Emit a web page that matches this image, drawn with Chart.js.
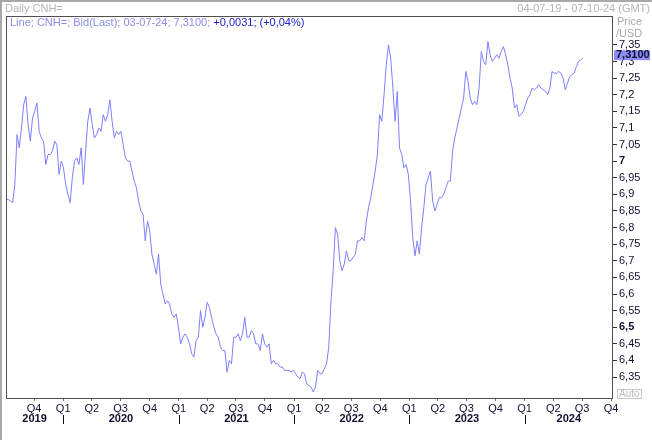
<!DOCTYPE html>
<html lang="en">
<head>
    <meta charset="UTF-8">
    <title>Daily CNH=</title>
    <script src="https://cdn.jsdelivr.net/npm/chart.js"></script>
    <style>
        body {
            margin: 0;
            padding: 0;
            background-color: #ffffff;
        }

        canvas {
            display: block;
        }
    </style>
</head>
<body>
<canvas id="cnhChart" width="652" height="440"></canvas>

<script>
    // range shown on the time axis and the last quote
    const startDate = '2019-07-04';
    const endDate = '2024-10-07';
    const lastDate = '2024-07-03';

    // weekly bid (one value every 7 days from startDate, last one on lastDate)
    const weeklyBid = [
        6.885, 6.885, 6.88, 6.875, 6.93, 7.08, 7.04, 7.10, 7.17, 7.195,
        7.11, 7.06, 7.13, 7.15, 7.175, 7.09, 7.07, 7.06, 6.99, 7.02,
        7.02, 7.03, 7.06, 7.05, 6.96, 7.00, 6.98, 6.93, 6.90, 6.875,
        6.95, 7.00, 7.01, 6.99, 7.04, 6.93, 7.03, 7.12, 7.16, 7.11,
        7.07, 7.08, 7.10, 7.09, 7.14, 7.12, 7.14, 7.185, 7.12, 7.07,
        7.09, 7.08, 7.09, 7.05, 7.01, 7.00, 7.00, 6.97, 6.94, 6.92,
        6.88, 6.85, 6.84, 6.76, 6.82, 6.79, 6.72, 6.69, 6.66, 6.72,
        6.63, 6.60, 6.57, 6.58, 6.57, 6.54, 6.53, 6.54, 6.50, 6.45,
        6.47, 6.48, 6.47, 6.45, 6.42, 6.41, 6.46, 6.47, 6.55, 6.50,
        6.53, 6.575, 6.56, 6.53, 6.50, 6.48, 6.47, 6.44, 6.43, 6.43,
        6.365, 6.40, 6.39, 6.47, 6.47, 6.48, 6.46, 6.48, 6.53, 6.47,
        6.47, 6.49, 6.48, 6.45, 6.45, 6.43, 6.48, 6.45, 6.44, 6.45,
        6.39, 6.40, 6.39, 6.39, 6.38, 6.38, 6.37, 6.37, 6.37, 6.365,
        6.37, 6.36, 6.35, 6.345, 6.365, 6.36, 6.33, 6.325, 6.32, 6.305,
        6.32, 6.37, 6.36, 6.36, 6.375, 6.39, 6.44, 6.58, 6.67, 6.80,
        6.78, 6.70, 6.67, 6.69, 6.73, 6.70, 6.70, 6.71, 6.72, 6.76,
        6.76, 6.77, 6.76, 6.82, 6.86, 6.89, 6.93, 6.97, 7.02, 7.14,
        7.12, 7.20, 7.29, 7.35, 7.31, 7.22, 7.12, 7.21, 7.04, 7.02,
        6.98, 6.99, 6.96, 6.88, 6.77, 6.715, 6.76, 6.72, 6.80, 6.86,
        6.93, 6.95, 6.97, 6.88, 6.85, 6.87, 6.89, 6.89, 6.90, 6.92,
        6.94, 6.94, 7.03, 7.07, 7.10, 7.13, 7.16, 7.19, 7.27, 7.24,
        7.19, 7.17, 7.18, 7.17, 7.22, 7.33, 7.30, 7.29, 7.36, 7.32,
        7.30, 7.31, 7.32, 7.31, 7.33, 7.345, 7.32, 7.29, 7.25, 7.22,
        7.16, 7.17, 7.135, 7.14, 7.15, 7.17, 7.19, 7.20, 7.22, 7.215,
        7.22, 7.23, 7.22, 7.215, 7.21, 7.20, 7.22, 7.27, 7.265, 7.265,
        7.27, 7.265, 7.25, 7.215, 7.235, 7.255, 7.26, 7.265, 7.285, 7.30,
        7.305, 7.31
    ];

    const yTicks = [6.35, 6.4, 6.45, 6.5, 6.55, 6.6, 6.65, 6.7, 6.75, 6.8, 6.85, 6.9,
        6.95, 7, 7.05, 7.1, 7.15, 7.2, 7.25, 7.3, 7.35];
    const boldTicks = [6.5, 7];

    const quarterStarts = ['2019-10-01', '2020-01-01', '2020-04-01', '2020-07-01', '2020-10-01',
        '2021-01-01', '2021-04-01', '2021-07-01', '2021-10-01', '2022-01-01', '2022-04-01',
        '2022-07-01', '2022-10-01', '2023-01-01', '2023-04-01', '2023-07-01', '2023-10-01',
        '2024-01-01', '2024-04-01', '2024-07-01', '2024-10-01'];
    const quarterLabels = ['Q4', 'Q1', 'Q2', 'Q3', 'Q4', 'Q1', 'Q2', 'Q3', 'Q4', 'Q1', 'Q2',
        'Q3', 'Q4', 'Q1', 'Q2', 'Q3', 'Q4', 'Q1', 'Q2', 'Q3', 'Q4'];
    const years = ['2019', '2020', '2021', '2022', '2023', '2024'];

    const lastText = '7,3100';
    const changeText = '+0,0031; (+0,04%)';

    function dayOf(s) {
        return (Date.parse(s) - Date.parse(startDate)) / 86400000;
    }

    const lastDay = dayOf(lastDate);
    const points = weeklyBid.map((v, i) => ({ x: Math.min(i * 7, lastDay), y: v }));

    Chart.defaults.font.family = '"Liberation Sans", Arial, sans-serif';
    Chart.defaults.font.size = 11;

    // frame, header texts, year row and the last-price box
    const decor = {
        id: 'decor',
        beforeDraw(chart) {
            const c = chart.ctx;
            c.save();
            c.fillStyle = '#ffffff';
            c.fillRect(0, 0, chart.width, chart.height);
            c.restore();
        },
        afterDraw(chart) {
            const c = chart.ctx;
            const a = chart.chartArea;
            const xs = chart.scales.x;
            const ys = chart.scales.y;
            c.save();

            // outer window edges
            c.fillStyle = '#a8a8a8';
            c.fillRect(0, 0, chart.width, 2);
            c.fillRect(0, 0, 2, chart.height);

            // plot frame
            c.strokeStyle = '#505050';
            c.lineWidth = 1;
            c.strokeRect(Math.round(a.left) + 0.5, Math.round(a.top) + 0.5,
                Math.round(a.right - a.left) - 1, Math.round(a.bottom - a.top));

            c.textBaseline = 'middle';
            c.font = '11px "Liberation Sans", Arial, sans-serif';
            c.fillStyle = '#b4b4b4';
            c.textAlign = 'left';
            c.fillText('Daily CNH=', 5, 9);
            c.textAlign = 'right';
            c.fillText('04-07-19 - 07-10-24 (GMT)', 650, 9);

            c.textAlign = 'left';
            const head = 'Line; CNH=; Bid(Last); 03-07-24; ' + lastText + '; ';
            c.fillStyle = '#8c8cec';
            c.fillText(head, 10, 23);
            c.fillStyle = '#2222cc';
            c.fillText(changeText, 10 + c.measureText(head).width, 23);

            c.fillStyle = '#a8a8a8';
            c.fillText('Price', 617, 22);
            c.fillText('/USD', 616, 34);

            // last price box
            const py = ys.getPixelForValue(weeklyBid[weeklyBid.length - 1]);
            c.fillStyle = '#8c8cf4';
            c.fillRect(614, py - 8, 36, 10);
            c.fillStyle = '#101030';
            c.font = 'bold 11px "Liberation Sans", Arial, sans-serif';
            c.fillText(lastText, 616, py - 3);

            // Auto box
            c.strokeStyle = '#c8c8c8';
            c.strokeRect(617.5, 389.5, 24, 9);
            c.fillStyle = '#b8b8b8';
            c.font = '10px "Liberation Sans", Arial, sans-serif';
            c.fillText('Auto', 619, 394.5);

            // years, centred on their visible part, with long marks at Q1
            c.font = 'bold 11px "Liberation Sans", Arial, sans-serif';
            c.fillStyle = '#101030';
            c.textAlign = 'center';
            years.forEach((y, i) => {
                const from = Math.max(xs.min, dayOf(y + '-01-01'));
                const to = Math.min(xs.max, dayOf((+y + 1) + '-01-01'));
                const px = (xs.getPixelForValue(from) + xs.getPixelForValue(to)) / 2;
                c.fillText(y, px, 419);
                if (i > 0) {
                    const tx = Math.round(xs.getPixelForValue(dayOf(y + '-01-01'))) + 0.5;
                    c.strokeStyle = '#101010';
                    c.beginPath();
                    c.moveTo(tx, 415);
                    c.lineTo(tx, 424);
                    c.stroke();
                }
            });
            c.restore();
        }
    };

    const ctx = document.getElementById('cnhChart').getContext('2d');
    new Chart(ctx, {
        type: 'line',
        data: {
            datasets: [{
                label: 'CNH= Bid',
                data: points,
                borderColor: '#7f7fff',
                borderWidth: 1,
                pointRadius: 0,
                tension: 0,
                fill: false
            }]
        },
        options: {
            responsive: false,
            animation: false,
            events: [],
            layout: { padding: { top: 16, left: 6, right: 0, bottom: 0 } },
            plugins: {
                legend: { display: false },
                tooltip: { enabled: false },
                title: { display: false }
            },
            scales: {
                x: {
                    type: 'linear',
                    position: 'bottom',
                    min: 0,
                    max: dayOf(endDate),
                    afterBuildTicks: s => { s.ticks = quarterStarts.map(d => ({ value: dayOf(d) })); },
                    afterFit: s => { s.height = 42; },
                    border: { display: false },
                    grid: { drawOnChartArea: false, tickLength: 3, color: '#707070' },
                    ticks: {
                        autoSkip: false,
                        maxRotation: 0,
                        padding: 1,
                        color: '#101030',
                        callback: (v, i) => quarterLabels[i]
                    }
                },
                y: {
                    type: 'linear',
                    position: 'right',
                    min: 6.287,
                    max: 7.437,
                    afterBuildTicks: s => { s.ticks = yTicks.map(v => ({ value: v })); },
                    afterFit: s => { s.width = 39; },
                    border: { display: false },
                    grid: { drawOnChartArea: false, tickLength: 4, color: '#303030' },
                    ticks: {
                        padding: 2,
                        color: '#101030',
                        font: c => ({
                            size: 11,
                            weight: boldTicks.includes(c.tick && +c.tick.value.toFixed(2)) ? 'bold' : 'normal'
                        }),
                        callback: v => String(+v.toFixed(2)).replace('.', ',')
                    }
                }
            }
        },
        plugins: [decor]
    });
</script>
</body>
</html>
